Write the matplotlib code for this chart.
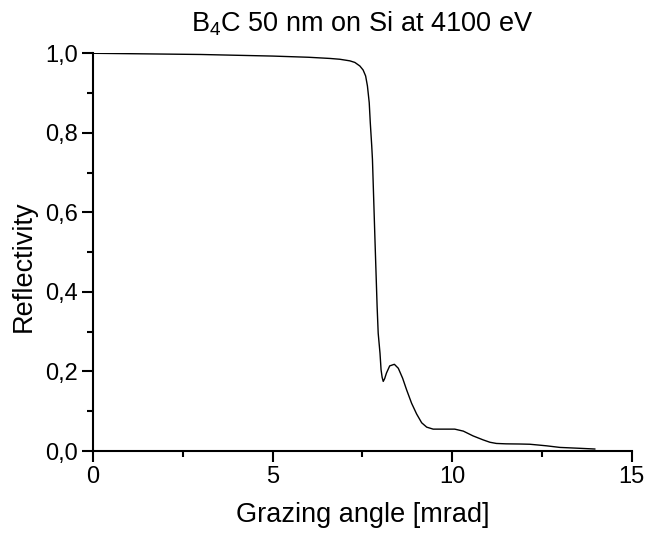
import matplotlib
matplotlib.use("Agg")
import matplotlib.pyplot as plt
from matplotlib.ticker import MultipleLocator, FuncFormatter

plt.rcParams['font.family'] = ['Liberation Sans', 'DejaVu Sans']
plt.rcParams['mathtext.default'] = 'regular'

# grazing angle [mrad] and reflectivity
angle = [0, 1, 2, 3, 4, 5, 6, 6.6, 6.87, 7.15, 7.29, 7.43, 7.52, 7.59, 7.64,
         7.69, 7.72, 7.76, 7.78, 7.85, 7.91, 7.94, 7.99, 8.02, 8.05, 8.08,
         8.12, 8.17, 8.26, 8.39, 8.50, 8.62, 8.73, 8.87, 9.01, 9.15, 9.29,
         9.47, 9.66, 9.84, 10.07, 10.31, 10.58, 10.86, 11.05, 11.23, 11.5,
         11.88, 12.16, 12.4, 12.63, 13.0, 13.5, 13.97]
reflectivity = [1.0, 0.999, 0.998, 0.997, 0.995, 0.993, 0.99, 0.987, 0.985,
                0.981, 0.977, 0.968, 0.958, 0.943, 0.918, 0.876, 0.825, 0.767,
                0.733, 0.531, 0.363, 0.296, 0.246, 0.204, 0.185, 0.175, 0.182,
                0.196, 0.214, 0.218, 0.208, 0.183, 0.154, 0.12, 0.093, 0.071,
                0.060, 0.055, 0.055, 0.055, 0.055, 0.050, 0.038, 0.028, 0.022,
                0.019, 0.018, 0.0176, 0.017, 0.015, 0.013, 0.009, 0.007, 0.005]

fig = plt.figure(figsize=(6.48, 5.35), dpi=100)
ax = fig.add_axes([0.1435, 0.157, 0.8315, 0.7434])

ax.plot(angle, reflectivity, color='black', linewidth=1)

ax.set_xlim(0, 15)
ax.set_ylim(0, 1.0)
ax.xaxis.set_major_locator(MultipleLocator(5))
ax.xaxis.set_minor_locator(MultipleLocator(2.5))
ax.yaxis.set_major_locator(MultipleLocator(0.2))
ax.yaxis.set_minor_locator(MultipleLocator(0.1))
ax.yaxis.set_major_formatter(FuncFormatter(lambda v, p: ("%.1f" % v).replace('.', ',')))

for s in ['top', 'right']:
    ax.spines[s].set_visible(False)
for s in ['left', 'bottom']:
    ax.spines[s].set_linewidth(1.5)

ax.tick_params(which='major', direction='out', length=8, width=1.5, labelsize=17, pad=3)
ax.tick_params(which='minor', direction='out', length=4, width=1.5)

ax.set_xlabel("Grazing angle [mrad]", fontsize=19.5, labelpad=10)
ax.set_ylabel("Reflectivity", fontsize=19.5)
ax.yaxis.set_label_coords(-0.105, 0.465)
ax.set_title("B$_4$C 50 nm on Si at 4100 eV", fontsize=19.5, pad=16)

fig.savefig("out.png", dpi=100)
